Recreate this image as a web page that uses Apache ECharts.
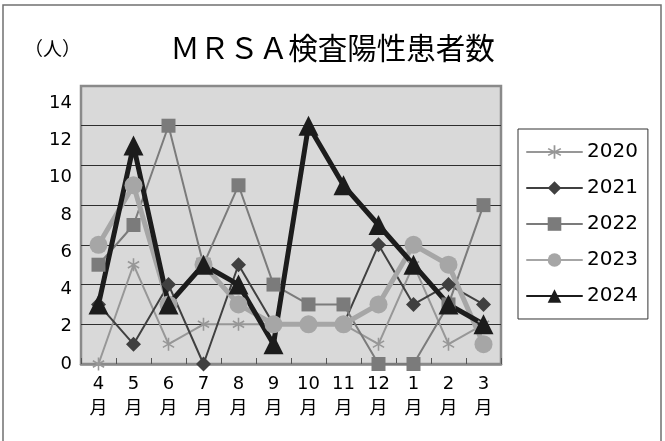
<!DOCTYPE html>
<html>
<head>
<meta charset="utf-8">
<script src="https://cdn.jsdelivr.net/npm/echarts@6/dist/echarts.min.js"></script>
<style>
  html, body { margin: 0; padding: 0; background: #fff; }
  #chart { width: 665px; height: 441px; }
</style>
</head>
<body>
<div id="chart"></div>
<script>
// Monthly MRSA-positive patient counts, fiscal year April -> March
const months = ['4月', '5月', '6月', '7月', '8月', '9月', '10月', '11月', '12月', '1月', '2月', '3月'];
const yearNames = ['2020', '2021', '2022', '2023', '2024'];
const fy2020 = [0, 5, 1, 2, 2, 2, 2, 2, 1, 5, 1, 2];
const fy2021 = [3, 1, 4, 0, 5, 2, 2, 2, 6, 3, 4, 3];
const fy2022 = [5, 7, 12, 5, 9, 4, 3, 3, 0, 0, 3, 8];
const fy2023 = [6, 9, 3, 5, 3, 2, 2, 2, 3, 6, 5, 1];
const fy2024 = [3, 11, 3, 5, 4, 1, 12, 9, 7, 5, 3, 2];
const yTicks = [0, 2, 4, 6, 8, 10, 12, 14];

const NUM_FONT = 'DejaVu Sans, Noto Sans CJK JP, sans-serif';
const JP_FONT = 'Noto Sans CJK JP, sans-serif';

// six-armed asterisk marker built from three bars
const asterisk = 'path://M-1.2,-10L1.2,-10L1.2,10L-1.2,10Z' +
  'M-9.26,-3.96L-8.06,-6.04L9.26,3.96L8.06,6.04Z' +
  'M8.06,-6.04L9.26,-3.96L-8.06,6.04L-9.26,3.96Z';

const styles = [
  { data: fy2020, color: '#979797', width: 2, symbol: asterisk, size: 13 },
  { data: fy2021, color: '#404040', width: 2, symbol: 'diamond', size: 15 },
  { data: fy2022, color: '#7b7b7b', width: 2, symbol: 'rect', size: 14 },
  { data: fy2023, color: '#a6a6a6', width: 5, symbol: 'circle', size: 18 },
  { data: fy2024, color: '#1c1c1c', width: 5, symbol: 'triangle', size: 20 }
];

const series = styles.map((s, i) => ({
  name: yearNames[i],
  type: 'line',
  data: s.data,
  xAxisIndex: 0,
  yAxisIndex: 0,
  symbol: s.symbol,
  symbolSize: s.size,
  symbolKeepAspect: true,
  showAllSymbol: true,
  lineStyle: { color: s.color, width: s.width, cap: 'round', join: 'round' },
  itemStyle: { color: s.color, opacity: 1 },
  emphasis: { disabled: true },
  animation: false
}));

const chart = echarts.init(document.getElementById('chart'), null, { renderer: 'canvas' });
chart.setOption({
  animation: false,
  title: {
    text: 'ＭＲＳＡ検査陽性患者数',
    left: 'center',
    top: 33,
    padding: 0,
    textStyle: { fontFamily: JP_FONT, fontSize: 29.5, fontWeight: 'normal', color: '#000' }
  },
  graphic: [{
    type: 'rect',
    shape: { x: 3, y: 5, width: 658, height: 460 },
    style: { fill: 'none', stroke: '#707070', lineWidth: 1.5 },
    silent: true
  }],
  legend: {
    orient: 'vertical',
    left: 518,
    top: 129,
    padding: [13, 10, 13, 8],
    itemGap: 16,
    itemWidth: 55,
    itemHeight: 17,
    borderColor: '#333',
    borderWidth: 1,
    backgroundColor: '#fff',
    textStyle: { fontFamily: NUM_FONT, fontSize: 20, color: '#000' },
    data: yearNames
  },
  grid: {
    left: 81, right: 164, top: 86, bottom: 77,
    show: true,
    backgroundColor: '#d9d9d9',
    borderColor: '#8a8a8a',
    borderWidth: 2.5
  },
  xAxis: {
    type: 'category',
    data: months,
    boundaryGap: true,
    axisLine: { show: true, lineStyle: { color: '#8a8a8a', width: 2.5 } },
    axisTick: { show: true, inside: true, length: 6, interval: 0, lineStyle: { color: '#555', width: 1 } },
    axisLabel: {
      interval: 0,
      margin: 8,
      fontFamily: NUM_FONT,
      fontSize: 18,
      lineHeight: 25,
      color: '#000',
      formatter: v => v.replace('月', '\n月')
    },
    splitLine: { show: false }
  },
  yAxis: [{
    type: 'value',
    min: yTicks[0],
    max: yTicks[yTicks.length - 1],
    interval: 2,
    axisLine: { show: false },
    axisTick: { show: false },
    axisLabel: { show: false },
    splitLine: { show: true, showMinLine: false, showMaxLine: false, lineStyle: { color: '#2e2e2e', width: 1 } }
  }, {
    // tick-label scale, drawn slightly compressed toward the base line
    type: 'value',
    position: 'left',
    min: 0,
    max: 14.91,
    interval: 2,
    name: '（人）',
    nameLocation: 'end',
    nameGap: 37,
    nameTextStyle: { fontFamily: JP_FONT, fontSize: 19, color: '#000', align: 'right', verticalAlign: 'middle', padding: [0, 0, 0, 0] },
    axisLine: { show: false },
    axisTick: { show: false },
    splitLine: { show: false },
    axisLabel: {
      margin: 9,
      fontFamily: NUM_FONT,
      fontSize: 18,
      color: '#000',
      formatter: v => (yTicks.indexOf(Math.round(v * 100) / 100) >= 0 ? String(v) : '')
    }
  }],
  series: series
});
</script>
</body>
</html>
